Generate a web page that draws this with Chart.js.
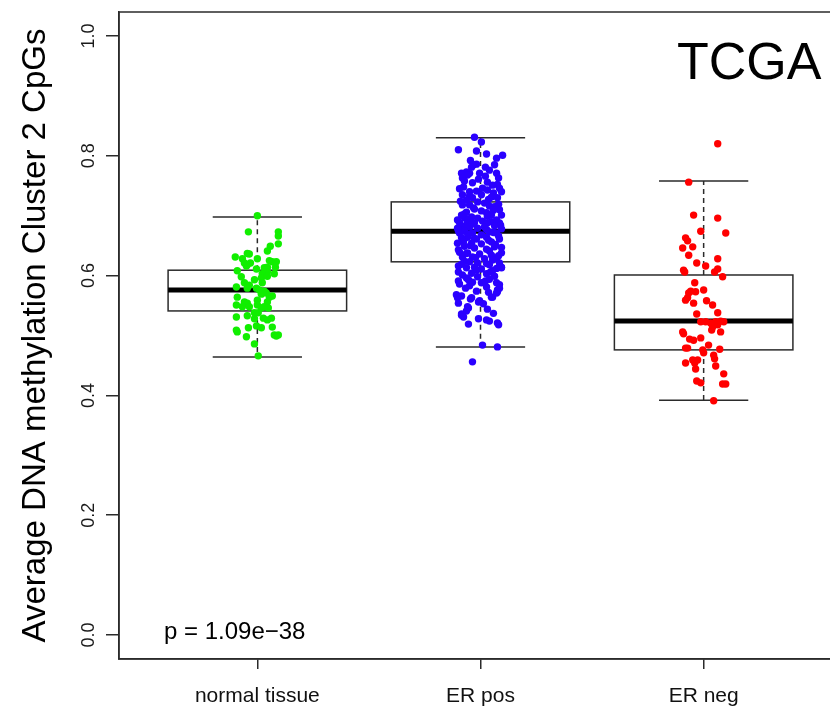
<!DOCTYPE html>
<html>
<head>
<meta charset="utf-8">
<script src="https://cdn.jsdelivr.net/npm/chart.js@4.4.1/dist/chart.umd.min.js"></script>
<style>
  html, body { margin: 0; padding: 0; background: #fff; }
  #wrap { width: 830px; height: 712px; overflow: hidden; position: relative; background: #fff; }
  canvas { display: block; }
</style>
</head>
<body>
<div id="wrap"><canvas id="chart" width="860" height="712" style="width:860px;height:712px"></canvas></div>
<script>
// categories and tick labels
const categories = ['normal tissue', 'ER pos', 'ER neg'];
const yTickValues = [0, 0.2, 0.4, 0.6, 0.8, 1.0];
const pointColors = ['#11ee00', '#2a00ff', '#ff0000'];

// box statistics
const lowerWhisker = [0.464, 0.481, 0.392];
const q1 = [0.541, 0.623, 0.476];
const median = [0.576, 0.674, 0.524];
const q3 = [0.609, 0.723, 0.601];
const upperWhisker = [0.698, 0.830, 0.758];

// individual samples: [value, horizontal jitter in category units]
const normalPoints = [
    [0.700, 0.000], [0.673, -0.040], [0.673, 0.094], [0.666, 0.094], [0.649, 0.058], [0.653, 0.094],
    [0.641, 0.045], [0.637, -0.045], [0.636, -0.036], [0.631, -0.099], [0.628, -0.067], [0.628, 0.000],
    [0.625, 0.054], [0.623, 0.067], [0.623, 0.085], [0.621, -0.058], [0.621, -0.031], [0.616, -0.049],
    [0.618, -0.045], [0.614, 0.045], [0.614, 0.081], [0.613, 0.031], [0.611, -0.004], [0.608, -0.090],
    [0.606, 0.045], [0.603, 0.022], [0.603, 0.076], [0.598, -0.072], [0.596, 0.018], [0.599, 0.045],
    [0.593, -0.013], [0.588, -0.058], [0.584, -0.036], [0.588, 0.022], [0.581, -0.094], [0.579, -0.045],
    [0.579, -0.004], [0.576, 0.009], [0.574, 0.031], [0.571, 0.040], [0.569, 0.018], [0.564, -0.090],
    [0.564, 0.054], [0.566, 0.067], [0.559, 0.000], [0.556, -0.058], [0.556, 0.045], [0.554, -0.045],
    [0.551, -0.094], [0.548, -0.067], [0.548, -0.036], [0.551, 0.000], [0.546, 0.018], [0.548, 0.031],
    [0.546, 0.049], [0.538, -0.013], [0.533, -0.045], [0.538, 0.004], [0.531, -0.094], [0.529, 0.027],
    [0.526, 0.045], [0.528, -0.013], [0.529, 0.063], [0.514, 0.067], [0.516, -0.004], [0.513, -0.040],
    [0.513, 0.018], [0.509, -0.094], [0.506, -0.090], [0.501, 0.076], [0.499, 0.085], [0.501, 0.094],
    [0.498, -0.049], [0.486, -0.013], [0.466, 0.004]
];

const erPosPoints = [
    [0.831, -0.027], [0.823, 0.004], [0.810, -0.099], [0.808, -0.018], [0.803, 0.027], [0.801, 0.099],
    [0.796, 0.072], [0.792, -0.045], [0.785, -0.031], [0.786, -0.018], [0.781, -0.040], [0.781, 0.022],
    [0.785, 0.063], [0.776, 0.040], [0.773, -0.063], [0.771, -0.049], [0.771, -0.085], [0.768, -0.058],
    [0.766, 0.022], [0.763, -0.081], [0.771, -0.004], [0.771, 0.072], [0.761, -0.009], [0.763, 0.081],
    [0.758, -0.072], [0.755, -0.036], [0.756, 0.031], [0.752, 0.076], [0.751, 0.054], [0.748, -0.076],
    [0.746, 0.009], [0.746, 0.085], [0.745, -0.094], [0.740, -0.049], [0.741, -0.018], [0.743, 0.031],
    [0.738, 0.058], [0.735, -0.081], [0.740, 0.094], [0.735, 0.004], [0.733, -0.049], [0.730, -0.036],
    [0.731, 0.049], [0.730, 0.076], [0.727, 0.036], [0.726, -0.063], [0.724, -0.090], [0.723, -0.013],
    [0.721, 0.018], [0.719, 0.081], [0.718, -0.049], [0.718, -0.081], [0.716, 0.040], [0.715, 0.063],
    [0.713, -0.031], [0.711, -0.027], [0.709, 0.058], [0.708, 0.004], [0.706, -0.063], [0.710, 0.085],
    [0.705, 0.027], [0.703, -0.072], [0.701, -0.085], [0.701, 0.049], [0.699, 0.031], [0.698, -0.040],
    [0.701, 0.094], [0.696, -0.072], [0.696, -0.013], [0.694, -0.054], [0.693, 0.072], [0.693, -0.103],
    [0.691, 0.009], [0.690, 0.049], [0.688, -0.058], [0.688, -0.094], [0.688, -0.027], [0.688, 0.031],
    [0.688, 0.085], [0.686, -0.036], [0.684, 0.090], [0.683, 0.063], [0.683, -0.081], [0.681, -0.049],
    [0.681, 0.018], [0.680, -0.067], [0.679, -0.103], [0.679, -0.013], [0.678, 0.094], [0.677, 0.027],
    [0.675, -0.099], [0.674, -0.072], [0.673, 0.040], [0.672, 0.058], [0.671, -0.036], [0.671, -0.094],
    [0.671, 0.072], [0.669, -0.054], [0.668, 0.004], [0.666, 0.081], [0.664, -0.058], [0.664, 0.027],
    [0.663, -0.085], [0.662, -0.027], [0.661, -0.018], [0.661, 0.085], [0.659, 0.036], [0.657, -0.076],
    [0.656, 0.049], [0.654, -0.040], [0.654, -0.103], [0.653, 0.004], [0.652, 0.067], [0.650, -0.045],
    [0.649, -0.072], [0.648, 0.063], [0.647, 0.094], [0.646, -0.027], [0.644, 0.027], [0.643, -0.099],
    [0.641, 0.040], [0.639, -0.094], [0.638, -0.058], [0.638, 0.094], [0.637, -0.063], [0.636, -0.004],
    [0.634, 0.049], [0.633, 0.081], [0.631, -0.081], [0.631, -0.036], [0.630, -0.022], [0.629, 0.072],
    [0.628, 0.018], [0.626, 0.054], [0.624, -0.072], [0.623, -0.049], [0.621, -0.013], [0.621, 0.085],
    [0.620, 0.027], [0.619, -0.085], [0.618, 0.040], [0.616, -0.099], [0.614, -0.027], [0.613, -0.063],
    [0.614, 0.094], [0.613, 0.094], [0.612, 0.072], [0.611, 0.004], [0.609, -0.018], [0.608, 0.054],
    [0.606, -0.099], [0.606, 0.045], [0.604, -0.040], [0.603, 0.027], [0.601, -0.081], [0.599, 0.063],
    [0.598, -0.013], [0.596, -0.063], [0.594, 0.040], [0.593, -0.054], [0.591, -0.099], [0.591, 0.022],
    [0.589, -0.036], [0.588, 0.004], [0.588, 0.072], [0.586, -0.094], [0.585, 0.085], [0.583, -0.049],
    [0.581, 0.027], [0.579, -0.067], [0.579, 0.085], [0.576, 0.076], [0.574, -0.018], [0.573, 0.076],
    [0.572, 0.036], [0.571, 0.072], [0.568, -0.108], [0.566, -0.085], [0.564, 0.049], [0.564, 0.054],
    [0.563, -0.103], [0.563, -0.040], [0.561, -0.045], [0.558, -0.004], [0.556, -0.009], [0.554, -0.099],
    [0.553, 0.013], [0.548, -0.058], [0.546, -0.054], [0.544, 0.031], [0.541, -0.063], [0.537, 0.058],
    [0.536, -0.085], [0.534, -0.085], [0.531, -0.076], [0.528, -0.009], [0.526, 0.027], [0.524, 0.040],
    [0.521, 0.076], [0.519, -0.054], [0.518, 0.081], [0.484, 0.009], [0.481, 0.076], [0.456, -0.036]
];

const erNegPoints = [
    [0.820, 0.063], [0.756, -0.067], [0.701, -0.045], [0.696, 0.063], [0.674, -0.013], [0.671, 0.099],
    [0.663, -0.081], [0.658, -0.072], [0.646, -0.094], [0.648, -0.049], [0.634, -0.067], [0.628, 0.063],
    [0.621, -0.031], [0.616, 0.009], [0.609, -0.090], [0.606, -0.085], [0.611, 0.063], [0.606, 0.049],
    [0.598, 0.085], [0.588, -0.040], [0.574, -0.058], [0.571, -0.067], [0.573, -0.036], [0.576, 0.000],
    [0.563, -0.072], [0.559, -0.081], [0.554, -0.045], [0.558, 0.013], [0.551, 0.040], [0.536, -0.031],
    [0.538, 0.063], [0.523, -0.013], [0.523, 0.009], [0.521, 0.031], [0.523, 0.054], [0.524, 0.076],
    [0.523, 0.090], [0.514, 0.040], [0.518, 0.063], [0.509, 0.036], [0.506, 0.076], [0.506, -0.094],
    [0.503, -0.090], [0.494, -0.063], [0.492, -0.045], [0.496, -0.013], [0.484, 0.022], [0.479, -0.081],
    [0.479, -0.072], [0.476, -0.004], [0.477, 0.072], [0.471, 0.000], [0.467, 0.045], [0.461, 0.049],
    [0.459, -0.049], [0.459, -0.027], [0.454, -0.081], [0.454, -0.040], [0.449, 0.054], [0.444, -0.036],
    [0.436, 0.090], [0.424, -0.031], [0.421, -0.013], [0.419, 0.085], [0.419, 0.099], [0.391, 0.045]
];

const groupPoints = [normalPoints, erPosPoints, erNegPoints];
const pValueText = 'p = 1.09e\u221238';
const yAxisTitle = 'Average DNA methylation Cluster 2 CpGs';
const panelTitle = 'TCGA';

const FONT = "'Liberation Sans', Arial, Helvetica, sans-serif";
const LINE = '#2b2b2b';

// build scatter datasets from the arrays
const datasets = groupPoints.map(function(points, i) {
    return {
        label: categories[i],
        data: points.map(function(p) { return { x: i + 1 + p[1], y: p[0] }; }),
        backgroundColor: pointColors[i],
        borderWidth: 0,
        pointRadius: 3.7,
        pointHoverRadius: 3.7
    };
});

// boxes, whiskers and medians drawn through the chart's scales
const boxPlugin = {
    id: 'boxes',
    beforeDatasetsDraw(chart) {
        const ctx = chart.ctx;
        const xs = chart.scales.x;
        const ys = chart.scales.y;
        ctx.save();
        for (let i = 0; i < categories.length; i++) {
            const c = i + 1;
            const left = xs.getPixelForValue(c - 0.4);
            const right = xs.getPixelForValue(c + 0.4);
            const capL = xs.getPixelForValue(c - 0.2);
            const capR = xs.getPixelForValue(c + 0.2);
            const mid = xs.getPixelForValue(c);
            const yq1 = ys.getPixelForValue(q1[i]);
            const yq3 = ys.getPixelForValue(q3[i]);
            const ylo = ys.getPixelForValue(lowerWhisker[i]);
            const yhi = ys.getPixelForValue(upperWhisker[i]);
            const ymed = ys.getPixelForValue(median[i]);

            // dashed whiskers
            ctx.strokeStyle = LINE;
            ctx.lineWidth = 1.5;
            ctx.setLineDash([5, 4]);
            ctx.beginPath();
            ctx.moveTo(mid, yq3); ctx.lineTo(mid, yhi);
            ctx.moveTo(mid, yq1); ctx.lineTo(mid, ylo);
            ctx.stroke();
            ctx.setLineDash([]);

            // caps
            ctx.beginPath();
            ctx.moveTo(capL, yhi); ctx.lineTo(capR, yhi);
            ctx.moveTo(capL, ylo); ctx.lineTo(capR, ylo);
            ctx.stroke();

            // box
            ctx.strokeRect(left, yq3, right - left, yq1 - yq3);

            // median
            ctx.strokeStyle = '#000';
            ctx.lineWidth = 5;
            ctx.beginPath();
            ctx.moveTo(left, ymed); ctx.lineTo(right, ymed);
            ctx.stroke();
        }
        ctx.restore();
    }
};

// frame, axis labels and texts
const textPlugin = {
    id: 'texts',
    afterDraw(chart) {
        const ctx = chart.ctx;
        const area = chart.chartArea;
        const xs = chart.scales.x;
        const ys = chart.scales.y;
        ctx.save();

        ctx.strokeStyle = LINE;
        ctx.lineWidth = 1.5;
        ctx.strokeRect(area.left, area.top, area.right - area.left, area.bottom - area.top);

        // y tick labels, rotated like R's las = 0
        ctx.fillStyle = '#1a1a1a';
        ctx.font = '18px ' + FONT;
        ctx.textAlign = 'center';
        ctx.textBaseline = 'alphabetic';
        yTickValues.forEach(function(v) {
            ctx.save();
            ctx.translate(94, ys.getPixelForValue(v));
            ctx.rotate(-Math.PI / 2);
            ctx.fillText(v.toFixed(1), 0, 0);
            ctx.restore();
        });

        // category labels
        ctx.fillStyle = '#111';
        ctx.font = '21px ' + FONT;
        categories.forEach(function(c, i) {
            ctx.fillText(c, xs.getPixelForValue(i + 1), 702);
        });

        ctx.fillStyle = '#000';
        ctx.font = '33px ' + FONT;
        ctx.save();
        ctx.translate(45, ys.getPixelForValue(0.5));
        ctx.rotate(-Math.PI / 2);
        ctx.fillText(yAxisTitle, 0, 0);
        ctx.restore();

        ctx.textAlign = 'left';
        ctx.font = '52px ' + FONT;
        ctx.fillText(panelTitle, 677, 79);

        ctx.font = '24px ' + FONT;
        ctx.fillText(pValueText, 164, 639);

        ctx.restore();
    }
};

const chart = new Chart(document.getElementById('chart'), {
    type: 'scatter',
    data: { datasets: datasets },
    options: {
        responsive: false,
        animation: false,
        events: [],
        layout: { padding: { left: 106, top: 12, right: 18, bottom: 43 } },
        plugins: {
            legend: { display: false },
            tooltip: { enabled: false }
        },
        scales: {
            x: {
                type: 'linear',
                min: 0.38,
                max: 3.62,
                afterBuildTicks: function(scale) {
                    scale.ticks = categories.map(function(c, i) { return { value: i + 1 }; });
                },
                ticks: { display: false },
                grid: {
                    drawOnChartArea: false,
                    drawTicks: true,
                    tickLength: 10,
                    color: LINE,
                    lineWidth: 1.5
                },
                border: { display: true, color: LINE, width: 1.5 }
            },
            y: {
                type: 'linear',
                min: -0.04,
                max: 1.04,
                afterBuildTicks: function(scale) {
                    scale.ticks = yTickValues.map(function(v) { return { value: v }; });
                },
                ticks: { display: false },
                grid: {
                    drawOnChartArea: false,
                    drawTicks: true,
                    tickLength: 13,
                    color: LINE,
                    lineWidth: 1.5
                },
                border: { display: true, color: LINE, width: 1.5 }
            }
        }
    },
    plugins: [boxPlugin, textPlugin]
});
</script>
</body>
</html>
